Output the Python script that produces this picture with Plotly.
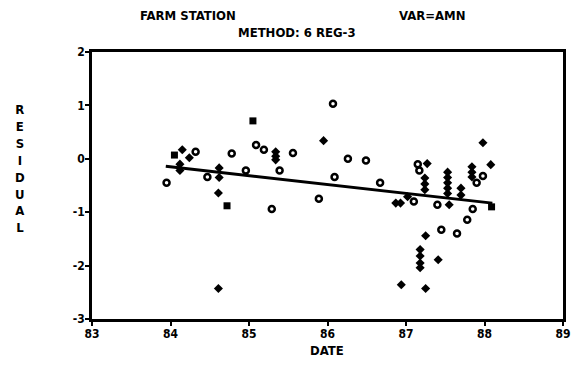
import plotly.graph_objects as go

# open-circle residuals
circ_x = [83.95, 84.32, 84.47, 84.78, 84.96, 85.09, 85.19, 85.39, 85.56, 85.29, 85.89, 86.07,
          86.09, 86.26, 86.49, 86.67, 87.10, 87.15, 87.17, 87.40, 87.45, 87.65, 87.78, 87.85,
          87.90, 87.98]
circ_y = [-0.45, 0.13, -0.34, 0.10, -0.22, 0.26, 0.17, -0.22, 0.11, -0.94, -0.75, 1.03,
          -0.34, 0.00, -0.03, -0.45, -0.80, -0.10, -0.22, -0.86, -1.33, -1.40, -1.14, -0.94,
          -0.45, -0.32]

# filled-diamond residuals
dia_x = [84.15, 84.24, 84.12, 84.12, 84.62, 84.62, 84.61, 84.61, 85.34, 85.34, 85.34, 85.95,
         86.87, 86.93, 87.02, 87.27, 87.24, 87.24, 87.24, 87.25, 87.18, 87.18, 87.18, 87.18,
         87.41, 86.94, 87.25, 87.53, 87.53, 87.53, 87.53, 87.53, 87.55, 87.70, 87.70, 87.84,
         87.84, 87.84, 87.98, 88.08]
dia_y = [0.17, 0.02, -0.10, -0.22, -0.17, -0.35, -0.64, -2.43, 0.13, 0.05, -0.02, 0.34,
         -0.83, -0.83, -0.71, -0.09, -0.36, -0.47, -0.58, -1.44, -1.70, -1.82, -1.95, -2.04,
         -1.89, -2.36, -2.43, -0.25, -0.35, -0.45, -0.55, -0.65, -0.86, -0.55, -0.68, -0.15,
         -0.25, -0.34, 0.30, -0.11]

# filled-square residuals
sq_x = [84.05, 84.72, 85.05, 88.09]
sq_y = [0.07, -0.88, 0.71, -0.90]

# regression line endpoints
fit_x = [83.94, 88.10]
fit_y = [-0.14, -0.83]

x_ticks = [83, 84, 85, 86, 87, 88, 89]
y_ticks = [-3, -2, -1, 0, 1, 2]

FONT = "Liberation Sans Narrow, DejaVu Sans Condensed, Arial Narrow, sans-serif"

fig = go.Figure()
fig.add_trace(go.Scatter(x=fit_x, y=fit_y, mode="lines",
                         line=dict(color="black", width=3), hoverinfo="skip"))
fig.add_trace(go.Scatter(x=circ_x, y=circ_y, mode="markers",
                         marker=dict(symbol="circle-open", size=6, color="black",
                                     line=dict(width=2.5, color="black"))))
fig.add_trace(go.Scatter(x=dia_x, y=dia_y, mode="markers",
                         marker=dict(symbol="diamond", size=7, color="black")))
fig.add_trace(go.Scatter(x=sq_x, y=sq_y, mode="markers",
                         marker=dict(symbol="square", size=7, color="black")))

fig.update_layout(
    width=584, height=369,
    margin=dict(l=92, r=21, t=52, b=50),
    paper_bgcolor="white", plot_bgcolor="white",
    showlegend=False,
    font=dict(family=FONT, color="black", size=13),
    xaxis=dict(range=[83, 89], tickvals=x_ticks, ticktext=[f"<b>{v}</b>" for v in x_ticks],
               showgrid=False, zeroline=False, showline=True, mirror=True,
               linecolor="black", linewidth=2.5, ticks="outside", ticklen=4,
               tickwidth=2, tickcolor="black", tickfont=dict(size=12, family=FONT),
               ticklabelstandoff=-2),
    yaxis=dict(range=[-3, 2], tickvals=y_ticks,
               ticktext=["<b>-3</b>", "<b>-2</b>", "<b>-1</b>", "<b>0</b>", "<b>1</b>", "<b>2</b>"],
               showgrid=False, zeroline=False, showline=True, mirror=True,
               linecolor="black", linewidth=2.5, ticks="outside", ticklen=4,
               tickwidth=2, tickcolor="black", tickfont=dict(size=12, family=FONT),
               ticklabelstandoff=-2),
)


def px(xp, yp):
    return (xp - 92) / 471, (369 - 50 - yp) / 267


anns = []
for txt, xp, yp in [("<b>FARM STATION</b>", 188, 15), ("<b>VAR=AMN</b>", 432, 15),
                    ("<b>METHOD: 6 REG-3</b>", 297, 32), ("<b>DATE</b>", 327, 350)]:
    ax_, ay_ = px(xp, yp)
    anns.append(dict(text=txt, x=ax_, y=ay_, xref="paper", yref="paper", showarrow=False,
                     xanchor="center", yanchor="middle", font=dict(size=13, family=FONT)))
ax_, ay_ = px(20, 168)
anns.append(dict(text="<br>".join(f"<b>{c}</b>" for c in "RESIDUAL"), x=ax_, y=ay_,
                 xref="paper", yref="paper", showarrow=False, xanchor="center",
                 yanchor="middle", align="center", font=dict(size=13, family=FONT)))
fig.layout.annotations = anns

fig.write_html("out.html")
